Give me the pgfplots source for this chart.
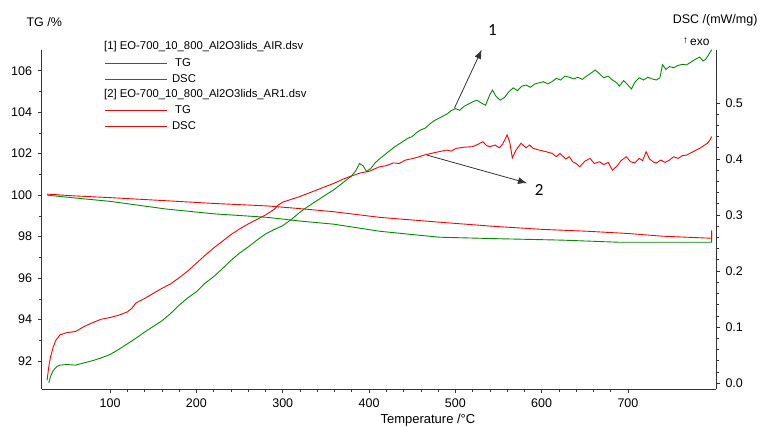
\documentclass[border=0pt]{standalone}
\usepackage{fontspec}
\setmainfont{Liberation Sans}
\newfontfamily\calib{Carlito}
\usepackage{pgfplots}
\pgfplotsset{compat=1.18}
\usetikzlibrary{arrows.meta}
\colorlet{tggreen}{green!55!black}
\colorlet{axgray}{black!80}
\begin{document}
\begin{tikzpicture}
\useasboundingbox (0pt,0pt) rectangle (762pt,426pt);
\pgfplotsset{
  common/.style={
    at={(41.5pt,37pt)}, anchor=south west, scale only axis,
    width=674.5pt, height=339pt,
    xmin=20.5, xmax=802,
    tick align=outside,
    major tick length=4pt, minor tick length=2.5pt,
    tick style={color=black!80, line width=0.6pt},
    axis line style={draw=black!80, line width=0.8pt},
    /pgf/number format/assume math mode=true,
    tick label style={font=\fontsize{12.5}{12.5}\selectfont, text=black},
  }
}
\begin{axis}[common,
  axis x line*=bottom, axis y line*=left,
  ymin=90.65, ymax=107.0,
  xtick={100,200,...,700}, minor x tick num=4,
  ytick={92,94,...,106}, minor y tick num=1,
  xticklabel style={yshift=-2pt},
  yticklabel style={xshift=-2pt},
]
% TG green (AIR)
\addplot[tggreen, line width=0.9pt] coordinates {
(27,100.00) (60,99.86) (100,99.70) (165,99.33) (220,99.10) (282,98.93) (320,98.75) (359,98.60) (412,98.26) (450,98.10) (482,97.97) (548,97.90) (624,97.83) (688,97.73) (797,97.73) (797,98.20)};
% TG red (AR1)
\addplot[red, line width=0.9pt] coordinates {
(27,100.05) (60,99.96) (100,99.88) (165,99.73) (220,99.60) (282,99.48) (320,99.35) (359,99.20) (412,98.93) (480,98.70) (543,98.50) (600,98.35) (652,98.26) (700,98.15) (740,98.02) (797,97.92) (797,98.30)};
\end{axis}
\begin{axis}[common, clip=false,
  axis x line=none, axis y line*=right,
  ymin=-0.0107, ymax=0.5946,
  ytick={0,0.1,...,0.5}, minor y tick num=4,
  yticklabel style={xshift=2pt, /pgf/number format/.cd, fixed, fixed zerofill, precision=1},
]
% DSC green (AIR)
\addplot[tggreen, line width=0.9pt] coordinates {
(29,0.000) (31,0.012) (34,0.022) (38,0.029) (42,0.032) (50,0.033) (60,0.032) (70,0.036) (80,0.040) (90,0.045) (100,0.051) (110,0.060) (120,0.070) (130,0.080) (140,0.091) (150,0.101) (160,0.111) (170,0.124) (180,0.139) (190,0.152) (200,0.163) (210,0.178) (220,0.190) (230,0.204) (240,0.219) (250,0.232) (260,0.243) (270,0.255) (280,0.266) (290,0.274) (300,0.281) (310,0.292) (320,0.305) (330,0.316) (340,0.326) (350,0.336) (360,0.346) (370,0.358) (380,0.370) (385,0.380) (389,0.392) (393,0.388) (397,0.378) (402,0.383) (407,0.393) (412,0.400) (420,0.410) (430,0.422) (440,0.432) (445,0.437) (450,0.440) (455,0.447) (460,0.452) (465,0.455) (470,0.462) (475,0.468) (480,0.472) (485,0.476) (490,0.480) (495,0.486) (500,0.490) (505,0.487) (510,0.494) (515,0.498) (520,0.502) (525,0.505) (530,0.500) (535,0.496) (540,0.515) (543,0.523) (547,0.512) (552,0.505) (557,0.510) (562,0.520) (567,0.527) (572,0.522) (577,0.530) (582,0.532) (587,0.528) (592,0.534) (597,0.536) (602,0.538) (607,0.534) (612,0.538) (617,0.544) (622,0.541) (627,0.548) (632,0.546) (637,0.543) (642,0.546) (647,0.542) (652,0.548) (657,0.553) (662,0.559) (667,0.552) (672,0.545) (677,0.548) (682,0.541) (687,0.536) (690,0.530) (695,0.540) (700,0.532) (704,0.525) (708,0.537) (713,0.545) (718,0.541) (723,0.546) (728,0.543) (733,0.541) (737,0.545) (740,0.568) (744,0.560) (748,0.565) (753,0.563) (758,0.567) (763,0.569) (768,0.568) (773,0.573) (778,0.578) (783,0.582) (787,0.575) (790,0.578) (793,0.585) (797,0.595)};
% DSC red (AR1)
\addplot[red, line width=0.9pt] coordinates {
(27,0.005) (29,0.030) (31,0.047) (34,0.064) (37,0.076) (42,0.086) (50,0.090) (60,0.092) (70,0.101) (80,0.108) (90,0.114) (100,0.117) (110,0.121) (120,0.127) (125,0.133) (130,0.143) (140,0.151) (150,0.160) (160,0.169) (170,0.177) (180,0.188) (190,0.200) (200,0.214) (210,0.228) (220,0.241) (230,0.253) (240,0.265) (250,0.275) (260,0.284) (270,0.292) (280,0.300) (290,0.310) (295,0.318) (300,0.323) (310,0.328) (320,0.333) (330,0.339) (340,0.345) (350,0.351) (360,0.357) (370,0.364) (380,0.370) (390,0.375) (400,0.378) (412,0.386) (420,0.388) (428,0.393) (435,0.392) (442,0.398) (451,0.401) (458,0.404) (464,0.407) (472,0.410) (481,0.413) (490,0.416) (495,0.414) (501,0.419) (510,0.421) (520,0.422) (526,0.426) (532,0.431) (536,0.424) (540,0.422) (546,0.425) (551,0.420) (555,0.427) (560,0.443) (563,0.430) (566,0.402) (570,0.415) (576,0.428) (582,0.420) (586,0.425) (590,0.419) (597,0.416) (605,0.413) (612,0.410) (617,0.404) (621,0.410) (628,0.400) (632,0.404) (636,0.395) (640,0.392) (644,0.386) (650,0.396) (656,0.401) (661,0.392) (667,0.395) (672,0.390) (677,0.394) (682,0.380) (687,0.387) (692,0.397) (698,0.404) (703,0.395) (708,0.393) (713,0.401) (717,0.397) (721,0.413) (725,0.400) (730,0.394) (733,0.393) (738,0.398) (743,0.394) (748,0.398) (753,0.404) (758,0.401) (763,0.406) (768,0.407) (773,0.411) (778,0.415) (783,0.419) (788,0.424) (792,0.428) (795,0.434) (797,0.440)};
% annotations
\draw[black!80, line width=0.8pt, -{Latex[length=9pt,width=7pt]}] (axis cs:499,0.491) -- (axis cs:530.5,0.595);
\node[font=\calib\fontsize{17}{17}\selectfont] at (axis cs:543,0.630) {1};
\draw[black!80, line width=0.8pt, -{Latex[length=9pt,width=7pt]}] (axis cs:467,0.407) -- (axis cs:583,0.357);
\node[font=\calib\fontsize{17}{17}\selectfont] at (axis cs:597,0.345) {2};
\end{axis}
% titles
\node[anchor=west, font=\fontsize{12.5}{12.5}\selectfont] at (23pt,404pt) {TG /\%};
\node[anchor=east, font=\fontsize{12.5}{12.5}\selectfont] at (761pt,406pt) {DSC /(mW/mg)};
\node[anchor=west, font=\fontsize{12}{12}\selectfont, inner sep=0pt] at (683pt,384pt) {\raisebox{2pt}{\fontsize{10}{10}\selectfont ↑}\kern2pt exo};
\node[anchor=west, font=\fontsize{13}{13}\selectfont] at (377pt,6pt) {Temperature /°C};
% legend
\begin{scope}[font=\fontsize{11.3}{11.3}\selectfont]
\node[anchor=west, inner sep=0pt] at (104pt,379pt) {[1] EO-700\_10\_800\_Al2O3lids\_AIR.dsv};
\draw[draw=tggreen, line width=0.9pt] (105pt,363pt) -- (167pt,363pt);
\node at (183pt,363pt) {TG};
\draw[draw=tggreen, line width=0.9pt] (105pt,347pt) -- (167pt,347pt);
\node at (184pt,347pt) {DSC};
\node[anchor=west, inner sep=0pt] at (104pt,331pt) {[2] EO-700\_10\_800\_Al2O3lids\_AR1.dsv};
\draw[draw=red, line width=0.9pt] (105pt,316pt) -- (167pt,316pt);
\node at (183pt,316pt) {TG};
\draw[draw=red, line width=0.9pt] (105pt,300pt) -- (167pt,300pt);
\node at (184pt,300pt) {DSC};
\end{scope}
\end{tikzpicture}
\end{document}
